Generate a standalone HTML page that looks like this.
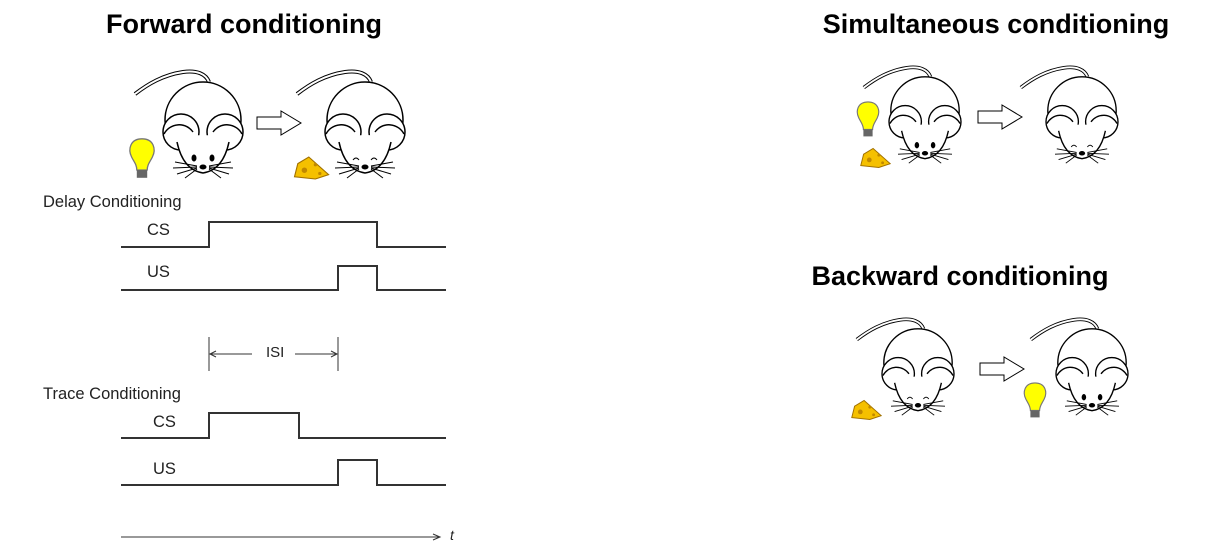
<!DOCTYPE html>
<html><head><meta charset="utf-8"><style>
html,body{margin:0;padding:0;background:#fff;}
svg{display:block;font-family:"Liberation Sans",sans-serif;}
</style></head><body>
<svg width="1219" height="548" viewBox="0 0 1219 548">
<defs>
<g id="mouse">
  <path d="M-68,-36 C-55,-46 -40,-55 -20,-58 C-6,-60 3,-56 6,-48" fill="none" stroke="#000" stroke-width="4"/>
  <path d="M-68,-36 C-55,-46 -40,-55 -20,-58 C-6,-60 3,-56 6,-48" fill="none" stroke="#fff" stroke-width="2"/>
  <circle cx="0" cy="-10" r="38" fill="#fff" stroke="#000" stroke-width="1.5"/>
  <circle cx="-22" cy="2" r="18" fill="#fff" stroke="#000" stroke-width="1.5"/>
  <circle cx="22" cy="2" r="18" fill="#fff" stroke="#000" stroke-width="1.5"/>
  <path d="M-26,10 Q-20,40 0,43 Q20,40 26,10 Q0,0 -26,10 Z" fill="#fff" stroke="none"/>
  <path d="M-26,12 Q-20,40 0,43 Q20,40 26,12" fill="none" stroke="#000" stroke-width="1.5"/>
  <path d="M-10,2 A17,17 0 0 0 -39,4" fill="none" stroke="#000" stroke-width="1.5"/>
  <path d="M10,2 A17,17 0 0 1 39,4" fill="none" stroke="#000" stroke-width="1.5"/>
  <ellipse cx="0" cy="37" rx="3.5" ry="2.5" fill="#000"/>
  <g stroke="#000" stroke-width="1" fill="none">
    <path d="M-6,36 L-28,32 M-6,37 L-30,38 M-6,38 L-26,44 M-6,39 L-18,48"/>
    <path d="M6,36 L28,32 M6,37 L30,38 M6,38 L26,44 M6,39 L18,48"/>
  </g>
</g>
<g id="eyes-open"><ellipse cx="-9" cy="28" rx="2.5" ry="3.5" fill="#000"/><ellipse cx="9" cy="28" rx="2.5" ry="3.5" fill="#000"/></g>
<g id="eyes-closed" fill="none" stroke="#000" stroke-width="1"><path d="M-12,30 Q-9,26 -6,30 M6,30 Q9,26 12,30"/></g>
<g id="arrow"><path d="M0,-6 L24,-6 L24,-12 L44,0 L24,12 L24,6 L0,6 Z" fill="#fff" stroke="#000" stroke-width="1"/></g>
<g id="bulb"><path d="M0,-14 C-9,-14 -11,-6 -8,0 C-6,4 -4,6 -4,10 L4,10 C4,6 6,4 8,0 C11,-6 9,-14 0,-14 Z" fill="#ffff00" stroke="#777" stroke-width="1"/><rect x="-4" y="10" width="8" height="6" fill="#666"/></g>
<g id="cheese"><path d="M-15,8 L-12,-4 L-2,-10 L16,6 L4,10 Z" fill="#f5c000" stroke="#a07000" stroke-width="1"/><circle cx="-6" cy="2" r="2.5" fill="#c08800"/><circle cx="4" cy="-3" r="1.5" fill="#c08800"/><circle cx="8" cy="5" r="1.5" fill="#c08800"/></g>
</defs>

<text x="244" y="33" font-size="27" font-weight="bold" text-anchor="middle">Forward conditioning</text>
<text x="996" y="33" font-size="27" font-weight="bold" text-anchor="middle">Simultaneous conditioning</text>
<text x="960" y="285" font-size="27" font-weight="bold" text-anchor="middle">Backward conditioning</text>

<g><use href="#mouse" transform="translate(203,130)"/><use href="#eyes-open" transform="translate(203,130)"/></g>
<use href="#bulb" transform="translate(142,157) scale(1.3)"/>
<use href="#arrow" transform="translate(257,123)"/>
<g><use href="#mouse" transform="translate(365,130)"/><use href="#eyes-closed" transform="translate(365,130)"/></g>
<use href="#cheese" transform="translate(311,168) scale(1.1)"/>

<g><use href="#mouse" transform="translate(925,120) scale(0.9)"/><use href="#eyes-open" transform="translate(925,120) scale(0.9)"/></g>
<use href="#bulb" transform="translate(868,118) scale(1.15)"/>
<use href="#cheese" transform="translate(875,158) scale(0.95)"/>
<use href="#arrow" transform="translate(978,117)"/>
<g><use href="#mouse" transform="translate(1082,120) scale(0.9)"/><use href="#eyes-closed" transform="translate(1082,120) scale(0.9)"/></g>

<g><use href="#mouse" transform="translate(918,372) scale(0.9)"/><use href="#eyes-closed" transform="translate(918,372) scale(0.9)"/></g>
<use href="#cheese" transform="translate(866,410) scale(0.95)"/>
<use href="#arrow" transform="translate(980,369)"/>
<g><use href="#mouse" transform="translate(1092,372) scale(0.9)"/><use href="#eyes-open" transform="translate(1092,372) scale(0.9)"/></g>
<use href="#bulb" transform="translate(1035,399) scale(1.15)"/>

<g font-size="16.5" fill="#222">
<text x="43" y="207">Delay Conditioning</text>
<text x="147" y="235">CS</text>
<text x="147" y="277">US</text>
<text x="266" y="357" font-size="15">ISI</text>
<text x="43" y="399">Trace Conditioning</text>
<text x="153" y="427">CS</text>
<text x="153" y="474">US</text>
<text x="450" y="540" font-style="italic" font-size="14">t</text>
</g>
<g fill="none" stroke="#333" stroke-width="2">
<path d="M121,247 H209 V222 H377 V247 H446"/>
<path d="M121,290 H338 V266 H377 V290 H446"/>
<path d="M121,438 H209 V413 H299 V438 H446"/>
<path d="M121,485 H338 V460 H377 V485 H446"/>
</g>
<g fill="none" stroke="#333" stroke-width="1">
<path d="M209,337 V371 M338,337 V371 M210,354 H252 M295,354 H337"/>
<path d="M216,351 L210,354 L216,357 M331,351 L337,354 L331,357"/>
</g>
<g fill="none" stroke="#333" stroke-width="1">
<path d="M121,537 H440 M433,534 L440,537 L433,540"/>
</g>
</svg>
</body></html>
